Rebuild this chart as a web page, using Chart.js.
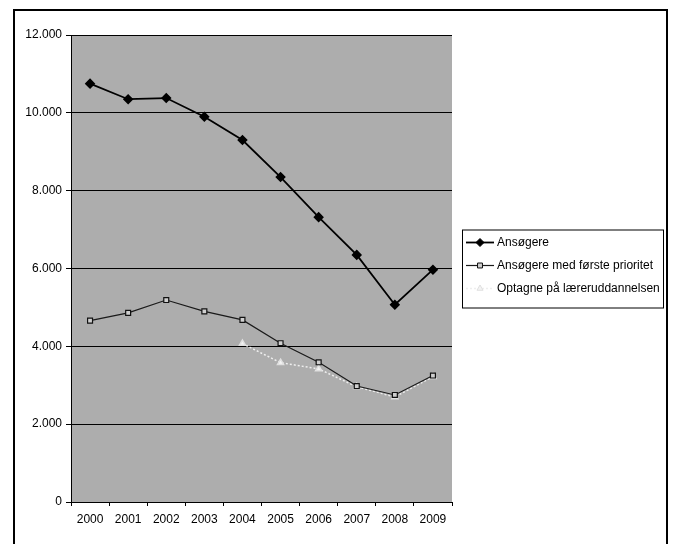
<!DOCTYPE html>
<html>
<head>
<meta charset="utf-8">
<script src="https://cdn.jsdelivr.net/npm/chart.js@4.4.0/dist/chart.umd.min.js"></script>
<style>
  html, body { margin: 0; padding: 0; background: #fff; }
  #wrap { width: 673px; height: 544px; position: relative; }
</style>
</head>
<body>
<div id="wrap"><canvas id="chart"></canvas></div>
<script>
// Data
const years = ['2000', '2001', '2002', '2003', '2004', '2005', '2006', '2007', '2008', '2009'];
const ansogere = [10750, 10350, 10380, 9900, 9300, 8350, 7320, 6350, 5070, 5970];
const forstePrioritet = [4660, 4860, 5190, 4900, 4680, 4080, 3590, 2980, 2750, 3250];
const optagne = [null, null, null, null, 4070, 3580, 3420, 2960, 2700, 3220];
const yTicks = [0, 2000, 4000, 6000, 8000, 10000, 12000];

const FONT = { family: '"Liberation Sans", Arial, sans-serif', size: 12 };

function fmt(v) {
  return String(v).replace(/\B(?=(\d{3})+(?!\d))/g, '.');
}

// grey plot area + outer frame
const backdrop = {
  id: 'backdrop',
  beforeDraw(chart) {
    const { ctx, chartArea: a } = chart;
    ctx.save();
    ctx.fillStyle = '#fff';
    ctx.fillRect(0, 0, chart.width, chart.height);
    ctx.fillStyle = '#adadad';
    ctx.fillRect(a.left, a.top, a.right - a.left, a.bottom - a.top);
    ctx.lineWidth = 2;
    ctx.strokeStyle = '#000';
    ctx.strokeRect(14, 10, 653, 600);
    ctx.restore();
  }
};

// Excel-style legend box: line sample with marker in the middle
const boxLegend = {
  id: 'boxLegend',
  afterDraw(chart) {
    const { ctx, chartArea: a } = chart;
    const x = a.right + 10, w = 201, rowH = 23;
    const n = chart.data.datasets.length;
    const h = n * rowH + 9;
    const y = (a.top + a.bottom) / 2 - h / 2;
    ctx.save();
    ctx.fillStyle = '#fff';
    ctx.fillRect(x, y, w, h);
    ctx.strokeStyle = '#000';
    ctx.lineWidth = 1;
    ctx.strokeRect(x + 0.5, y + 0.5, w, h);
    ctx.font = FONT.size + 'px ' + FONT.family;
    ctx.textBaseline = 'middle';
    chart.data.datasets.forEach((ds, i) => {
      const cy = y + 13 + i * rowH;
      ctx.save();
      ctx.strokeStyle = ds.borderColor;
      ctx.lineWidth = ds.borderWidth;
      ctx.setLineDash(ds.borderDash || []);
      ctx.beginPath();
      ctx.moveTo(x + 4, cy);
      ctx.lineTo(x + 32, cy);
      ctx.stroke();
      ctx.restore();
      ctx.fillStyle = ds.pointBackgroundColor;
      ctx.strokeStyle = ds.pointBorderColor;
      ctx.lineWidth = 1;
      Chart.helpers.drawPoint(ctx, { pointStyle: ds.pointStyle, radius: ds.pointRadius, borderWidth: 1 }, x + 18, cy);
      ctx.fillStyle = '#000';
      ctx.fillText(ds.label, x + 35, cy);
    });
    ctx.restore();
  }
};

new Chart(document.getElementById('chart'), {
  type: 'line',
  data: {
    labels: years,
    datasets: [
      {
        label: 'Ansøgere',
        data: ansogere,
        borderColor: '#000',
        borderWidth: 1.8,
        pointStyle: 'rectRot',
        pointRadius: 4,
        pointBackgroundColor: '#000',
        pointBorderColor: '#000',
        tension: 0
      },
      {
        label: 'Ansøgere med første prioritet',
        data: forstePrioritet,
        borderColor: '#1a1a1a',
        borderWidth: 1.2,
        pointStyle: 'rect',
        pointRadius: 3.5,
        pointBackgroundColor: '#cfcfcf',
        pointBorderColor: '#111',
        tension: 0
      },
      {
        label: 'Optagne på læreruddannelsen',
        data: optagne,
        borderColor: '#eeeeee',
        borderWidth: 1.5,
        borderDash: [2, 2],
        pointStyle: 'triangle',
        pointRadius: 3.5,
        pointBackgroundColor: '#f4f4f4',
        pointBorderColor: '#e0e0e0',
        tension: 0
      }
    ]
  },
  options: {
    responsive: true,
    maintainAspectRatio: false,
    animation: false,
    layout: { padding: { top: 35, right: 221, bottom: 10, left: 0 } },
    plugins: {
      legend: { display: false },
      tooltip: { enabled: false }
    },
    scales: {
      x: {
        offset: true,
        afterFit: s => { s.height = 32; },
        grid: { display: true, drawOnChartArea: false, offset: true, color: '#000', tickLength: 4 },
        border: { display: true, color: '#000', width: 1 },
        ticks: { color: '#000', font: FONT, padding: 6, maxRotation: 0 }
      },
      y: {
        min: 0,
        max: 12000,
        afterFit: s => { s.width = 71; },
        afterBuildTicks: s => { s.ticks = yTicks.map(v => ({ value: v })); },
        grid: { color: '#000', lineWidth: 1, tickLength: 5 },
        border: { display: true, color: '#000', width: 1 },
        ticks: { color: '#000', font: FONT, padding: 4, callback: v => fmt(v) }
      }
    }
  },
  plugins: [backdrop, boxLegend]
});
</script>
</body>
</html>
